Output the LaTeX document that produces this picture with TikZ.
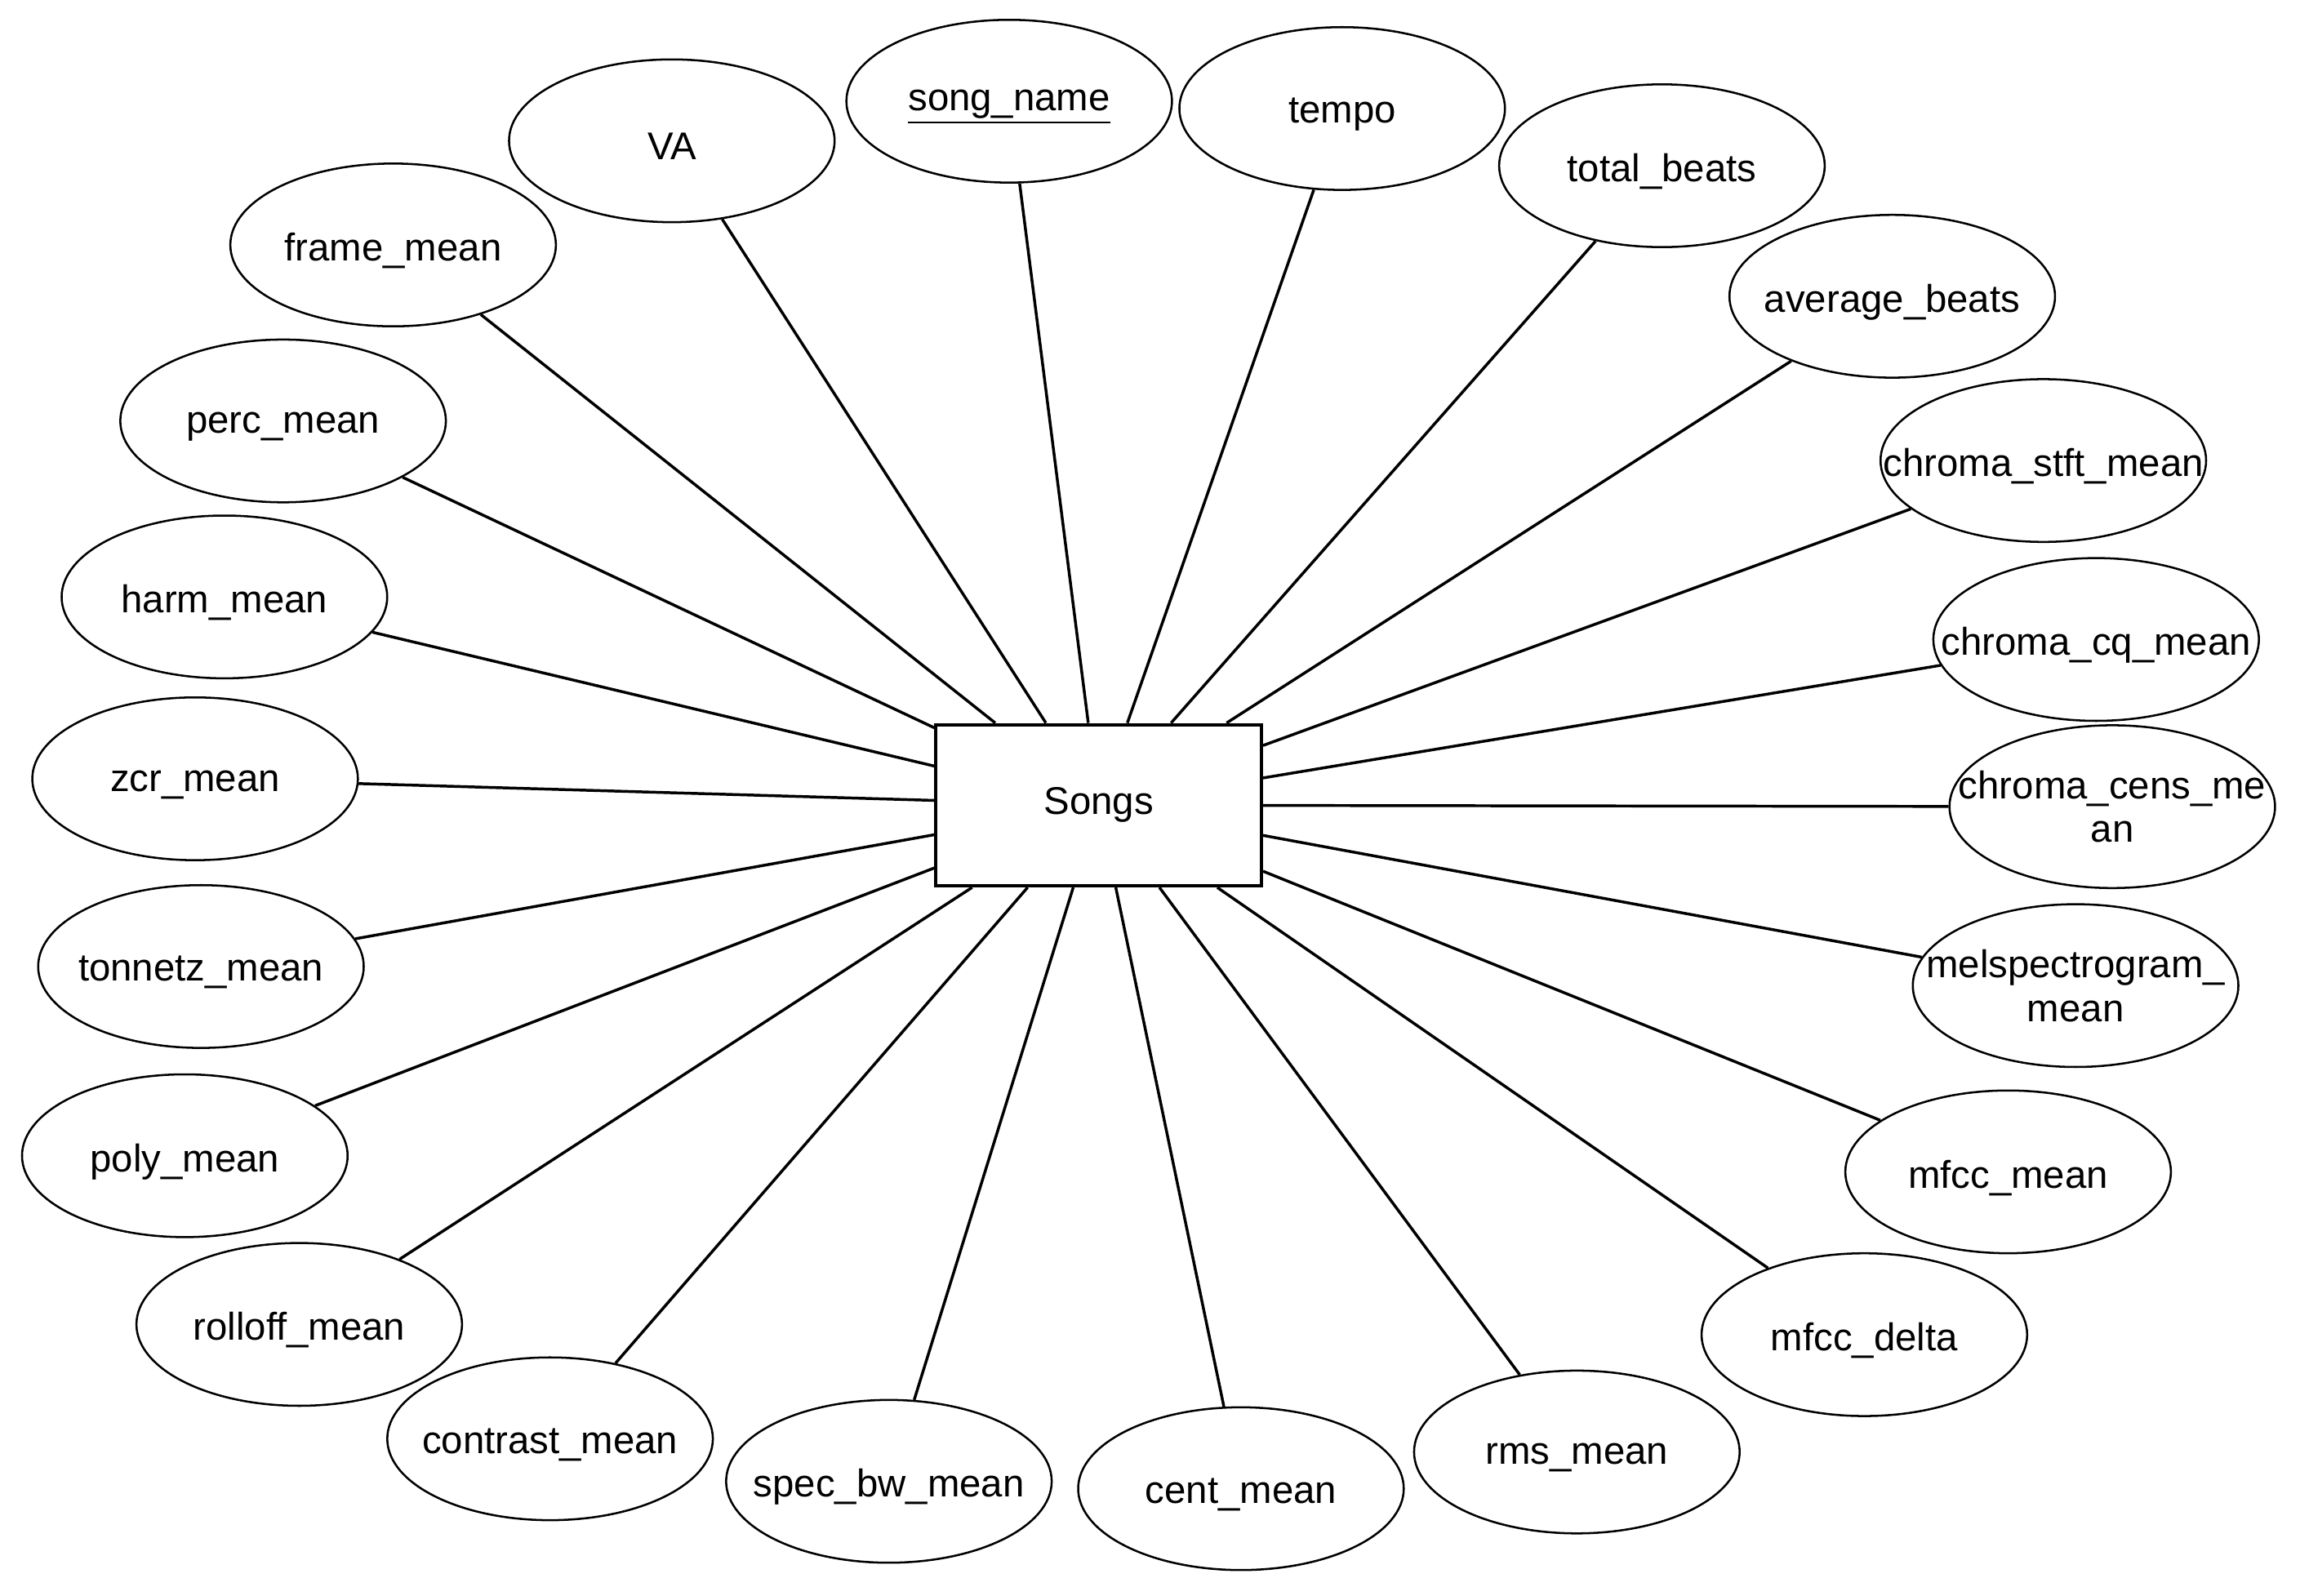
\documentclass[tikz,border=0pt]{standalone}
\usepackage{fontspec}
\setmainfont{Liberation Sans}
\usetikzlibrary{shapes.geometric}

\tikzset{
  attr/.style={draw, ellipse, line width=0.8pt, minimum width=4.44cm,
    minimum height=2.22cm, inner sep=0pt},
  entity/.style={draw, rectangle, line width=1.25pt, minimum width=4.44cm,
    minimum height=2.2cm, inner sep=0pt, font=\fontsize{15}{17}\selectfont},
  lbltwo/.style={font=\fontsize{15}{17}\selectfont, align=center, inner sep=0pt},
  lbl/.style={lbltwo, yshift=-0.08cm},
  link/.style={line width=1.1pt}
}

\begin{document}
\begin{tikzpicture}[x=0.02cm, y=-0.02cm]
\useasboundingbox (0,0) rectangle (1568,1088);

\node[entity] (songs) at (749,549) {Songs};

% attributes, clockwise from the top
\node[attr, label={[lbl]center:\underline{song\_name}}] (songname) at (688,69) {};
\node[attr, label={[lbl]center:tempo}] (tempo) at (915,74) {};
\node[attr, label={[lbl]center:total\_beats}] (totalbeats) at (1133,113) {};
\node[attr, label={[lbl]center:average\_beats}] (avgbeats) at (1290,202) {};
\node[attr, label={[lbl]center:chroma\_stft\_mean}] (stft) at (1393,314) {};
\node[attr, label={[lbl]center:chroma\_cq\_mean}] (cq) at (1429,436) {};
\node[attr, label={[lbltwo]center:{chroma\_cens\_me\\an}}] (cens) at (1440,550) {};
\node[attr, label={[lbltwo]center:{melspectrogram\_\\mean}}] (mel) at (1415,672) {};
\node[attr, label={[lbl]center:mfcc\_mean}] (mfcc) at (1369,799) {};
\node[attr, label={[lbl]center:mfcc\_delta}] (mfccdelta) at (1271,910) {};
\node[attr, label={[lbl]center:rms\_mean}] (rms) at (1075,990) {};
\node[attr, label={[lbl]center:cent\_mean}] (cent) at (846,1015) {};
\node[attr, label={[lbl]center:spec\_bw\_mean}] (specbw) at (606,1010) {};
\node[attr, label={[lbl]center:contrast\_mean}] (contrast) at (375,981) {};
\node[attr, label={[lbl]center:rolloff\_mean}] (rolloff) at (204,903) {};
\node[attr, label={[lbl]center:poly\_mean}] (poly) at (126,788) {};
\node[attr, label={[lbl]center:tonnetz\_mean}] (tonnetz) at (137,659) {};
\node[attr, label={[lbl]center:zcr\_mean}] (zcr) at (133,531) {};
\node[attr, label={[lbl]center:harm\_mean}] (harm) at (153,407) {};
\node[attr, label={[lbl]center:perc\_mean}] (perc) at (193,287) {};
\node[attr, label={[lbl]center:frame\_mean}] (frame) at (268,167) {};
\node[attr, label={[lbl]center:VA}] (va) at (458,96) {};

% connectors
\foreach \a in {songname,tempo,totalbeats,avgbeats,stft,cq,cens,mel,mfcc,
  mfccdelta,rms,cent,specbw,contrast,rolloff,poly,tonnetz,zcr,harm,perc,frame,va}
  \draw[link] (\a) -- (songs);
\end{tikzpicture}
\end{document}
